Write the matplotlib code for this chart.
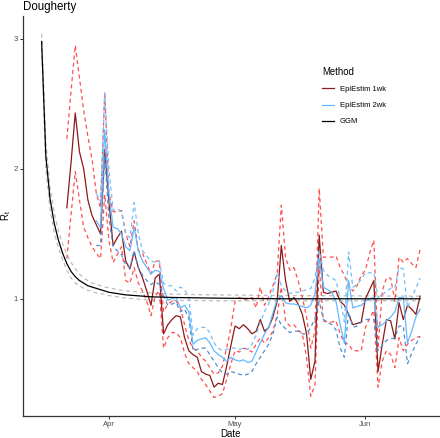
import numpy as np
import matplotlib
matplotlib.use("Agg")
import matplotlib.pyplot as plt
import matplotlib.dates as mdates
from matplotlib.lines import Line2D

plt.rcParams['font.family'] = ['Liberation Sans', 'DejaVu Sans']
plt.rcParams['mathtext.fontset'] = 'custom'
plt.rcParams['mathtext.rm'] = 'Liberation Sans'
plt.rcParams['mathtext.it'] = 'Liberation Sans:italic'

# ---------------- data (day offsets relative to 2020-04-01) ----------------
START = np.datetime64('2020-04-01')

# EpiEstim 1-week window: days -10 .. 74
wk1_days = list(range(-10, 75))
wk1_mean = [1.70, 2.05, 2.43, 2.13, 2.00, 1.76, 1.64, 1.57, 1.50, 2.15,
            1.75, 1.41, 1.47, 1.52, 1.29, 1.23, 1.36, 1.24, 1.16, 1.06,
            0.95, 1.16, 1.19, 0.73, 0.80, 0.84, 0.87, 0.86, 0.70, 0.60,
            0.57, 0.55, 0.44, 0.42, 0.41, 0.32, 0.35, 0.34, 0.48, 0.64,
            0.79, 0.77, 0.80, 0.77, 0.73, 0.75, 0.84, 0.75, 0.78, 0.86,
            0.98, 1.41, 1.14, 0.98, 1.01, 0.96, 0.88, 0.73, 0.38, 0.52,
            1.49, 1.05, 1.04, 1.05, 1.06, 0.98, 0.95, 0.88, 0.80, 0.81,
            0.82, 1.00, 1.07, 1.14, 0.44, 0.65, 0.84, 0.83, 0.69, 0.97,
            0.84, 0.95, 0.92, 0.88, 1.02]
wk1_upper = [2.23, 2.60, 2.95, 2.70, 2.45, 2.25, 2.07, 1.81, 1.70, 2.59,
             1.81, 1.67, 1.67, 1.68, 1.50, 1.40, 1.60, 1.37, 1.35, 1.27,
             1.19, 1.29, 1.29, 0.90, 0.96, 0.98, 0.98, 0.93, 0.80, 0.68,
             0.62, 0.60, 0.55, 0.52, 0.47, 0.42, 0.43, 0.48, 0.62, 0.78,
             0.98, 1.01, 0.99, 1.00, 1.01, 0.93, 1.09, 0.95, 1.02, 1.10,
             1.19, 1.72, 1.32, 1.22, 1.24, 1.14, 1.01, 0.86, 0.62, 0.75,
             1.85, 1.32, 1.32, 1.32, 1.33, 1.24, 1.18, 1.10, 1.06, 1.10,
             1.18, 1.22, 1.35, 1.45, 0.62, 1.06, 1.16, 1.16, 0.98, 1.32,
             1.28, 1.31, 1.27, 1.24, 1.38]
wk1_lower = [1.31, 1.65, 1.98, 1.76, 1.55, 1.47, 1.40, 1.35, 1.31, 1.80,
             1.45, 1.28, 1.34, 1.40, 1.14, 1.12, 1.24, 1.12, 1.06, 0.98,
             0.87, 1.02, 1.06, 0.62, 0.70, 0.74, 0.74, 0.70, 0.58, 0.50,
             0.47, 0.44, 0.38, 0.34, 0.29, 0.24, 0.25, 0.27, 0.38, 0.50,
             0.60, 0.59, 0.62, 0.61, 0.59, 0.65, 0.70, 0.66, 0.70, 0.75,
             0.87, 1.09, 0.83, 0.79, 0.80, 0.76, 0.73, 0.55, 0.25, 0.34,
             1.25, 0.83, 0.82, 0.82, 0.83, 0.73, 0.66, 0.65, 0.60, 0.60,
             0.60, 0.78, 0.85, 0.91, 0.32, 0.52, 0.60, 0.57, 0.47, 0.70,
             0.60, 0.65, 0.68, 0.70, 0.71]

# EpiEstim 2-week window: days -3 .. 74
wk2_days = list(range(-3, 75))
wk2_mean = [1.60, 1.55, 2.30, 1.81, 1.55, 1.54, 1.50, 1.40, 1.37, 1.55,
            1.37, 1.29, 1.24, 1.19, 1.22, 1.21, 1.08, 0.99, 1.00, 1.01,
            0.93, 0.95, 0.90, 0.65, 0.68, 0.69, 0.70, 0.66, 0.60, 0.57,
            0.55, 0.52, 0.55, 0.53, 0.52, 0.53, 0.51, 0.52, 0.59, 0.66,
            0.73, 0.78, 0.89, 1.00, 1.02, 0.97, 0.96, 0.96, 0.95, 0.94,
            0.93, 0.95, 1.04, 1.31, 1.09, 1.07, 1.05, 0.98, 0.80, 0.66,
            1.14, 0.93, 0.94, 0.95, 0.98, 1.00, 1.01, 0.78, 0.80, 0.83,
            0.86, 0.90, 1.01, 1.01, 0.66, 0.75, 0.86, 0.92]
wk2_upper = [1.81, 1.75, 2.58, 2.00, 1.68, 1.69, 1.67, 1.50, 1.47, 1.74,
             1.50, 1.37, 1.33, 1.29, 1.28, 1.29, 1.12, 1.10, 1.10, 1.06,
             1.09, 1.07, 1.01, 0.72, 0.77, 0.78, 0.78, 0.74, 0.66, 0.62,
             0.60, 0.61, 0.62, 0.62, 0.61, 0.62, 0.61, 0.65, 0.72, 0.82,
             0.90, 0.96, 1.06, 1.20, 1.10, 1.06, 1.04, 1.05, 1.05, 1.06,
             1.07, 1.08, 1.16, 1.37, 1.22, 1.18, 1.16, 1.14, 1.00, 0.82,
             1.36, 1.09, 1.11, 1.15, 1.20, 1.20, 1.20, 1.01, 1.03, 1.06,
             1.08, 1.09, 1.24, 1.23, 0.93, 1.01, 1.08, 1.16]
wk2_lower = [1.41, 1.41, 2.10, 1.62, 1.40, 1.37, 1.34, 1.26, 1.24, 1.37,
             1.24, 1.18, 1.14, 1.11, 1.13, 1.11, 1.02, 0.95, 0.96, 0.97,
             0.90, 0.92, 0.85, 0.60, 0.61, 0.62, 0.62, 0.57, 0.52, 0.47,
             0.43, 0.42, 0.44, 0.43, 0.42, 0.41, 0.42, 0.44, 0.50, 0.55,
             0.60, 0.65, 0.73, 0.86, 0.80, 0.77, 0.74, 0.75, 0.75, 0.73,
             0.73, 0.78, 0.85, 0.98, 0.84, 0.82, 0.80, 0.76, 0.62, 0.55,
             0.90, 0.78, 0.79, 0.82, 0.84, 0.84, 0.84, 0.60, 0.64, 0.68,
             0.69, 0.70, 0.79, 0.79, 0.50, 0.58, 0.65, 0.71]

# GGM
ggm_days = [-16, -15, -14, -13, -12, -11, -10, -9, -8, -7, -6, -5, -4, -3,
            -2, -1, 0, 2, 4, 6, 10, 15, 25, 40, 74]
ggm_mean = [2.98, 2.10, 1.77, 1.58, 1.45, 1.35, 1.27, 1.21, 1.17, 1.14,
            1.12, 1.10, 1.09, 1.08, 1.07, 1.06, 1.05, 1.04, 1.03, 1.025,
            1.015, 1.01, 1.005, 1.0, 1.0]
ggm_upper = [3.04, 2.20, 1.86, 1.66, 1.52, 1.42, 1.34, 1.28, 1.23, 1.19,
             1.16, 1.14, 1.12, 1.11, 1.10, 1.09, 1.085, 1.07, 1.06, 1.055,
             1.045, 1.035, 1.03, 1.025, 1.02]
ggm_lower = [2.93, 2.00, 1.69, 1.51, 1.39, 1.30, 1.22, 1.16, 1.12, 1.10,
             1.08, 1.065, 1.055, 1.045, 1.04, 1.035, 1.025, 1.015, 1.005,
             1.0, 0.99, 0.988, 0.985, 0.985, 0.985]

methods = ['EpiEstim 1wk', 'EpiEstim 2wk', 'GGM']
month_ticks = ['2020-04-01', '2020-05-01', '2020-06-01']
month_labels = ['Apr', 'May', 'Jun']

# ---------------- plotting ----------------
def to_dates(days):
    return START + np.array(days, dtype='timedelta64[D]')

fig = plt.figure(figsize=(4.40, 4.38), dpi=100)
ax = fig.add_axes([0.0516, 0.0509, 0.9462, 0.9137])

dash = (0, (3.2, 2.6))
LW = 0.9

c1_mean, c1_ci = '#8B1A1A', '#FF3B3B'
c2_mean, c2_hi, c2_lo = '#63B8FF', '#74BEF7', '#4F8FCF'
c3_mean, c3_ci = '#000000', '#BDBDBD'

gx = to_dates(ggm_days)
ax.plot(gx, ggm_upper, color=c3_ci, lw=LW, ls=dash)
ax.plot(gx, ggm_lower, color=c3_ci, lw=LW, ls=dash)

x1 = to_dates(wk1_days)
ax.plot(x1, wk1_upper, color=c1_ci, lw=LW, ls=dash, alpha=0.9)
ax.plot(x1, wk1_lower, color=c1_ci, lw=LW, ls=dash, alpha=0.9)
ax.plot(x1, wk1_mean, color=c1_mean, lw=LW)

x2 = to_dates(wk2_days)
ax.plot(x2, wk2_upper, color=c2_hi, lw=LW, ls=dash)
ax.plot(x2, wk2_lower, color=c2_lo, lw=LW, ls=dash)
ax.plot(x2, wk2_mean, color=c2_mean, lw=LW)

ax.plot(gx, ggm_mean, color=c3_mean, lw=LW)

# axes
x0 = mdates.date2num(START)
ax.set_xlim(x0 - 20.5, x0 + 78.5)
ax.set_ylim(0.10, 3.18)
ax.set_xticks([mdates.date2num(np.datetime64(d)) for d in month_ticks])
ax.set_xticklabels(month_labels)
ax.set_yticks([1, 2, 3])
ax.set_yticklabels(['1', '2', '3'])

for s in ['top', 'right']:
    ax.spines[s].set_visible(False)
for s in ['left', 'bottom']:
    ax.spines[s].set_color('#333333')
    ax.spines[s].set_linewidth(0.9)
ax.tick_params(axis='both', colors='#333333', labelcolor='#4D4D4D',
               labelsize=5.5, length=2.0, width=0.7, pad=1.5)

ax.set_xlabel('Date', fontsize=6.9, labelpad=0.8)
ax.set_ylabel(r'$\mathrm{R}_\mathrm{t}$', fontsize=6.9, labelpad=0.3)
ax.set_title('Dougherty', loc='left', fontsize=8.3, pad=4)

handles = [Line2D([], [], color=c1_mean, lw=LW),
           Line2D([], [], color=c2_mean, lw=LW),
           Line2D([], [], color=c3_mean, lw=LW)]
leg = ax.legend(handles, methods, title='Method', loc='upper left',
                bbox_to_anchor=(0.732, 0.847), bbox_transform=fig.transFigure,
                frameon=False, borderaxespad=0, borderpad=0,
                fontsize=5.5, title_fontsize=6.9, handlelength=1.6,
                handletextpad=0.75, labelspacing=1.15, alignment='left')

fig.savefig('out.png', dpi=100)
